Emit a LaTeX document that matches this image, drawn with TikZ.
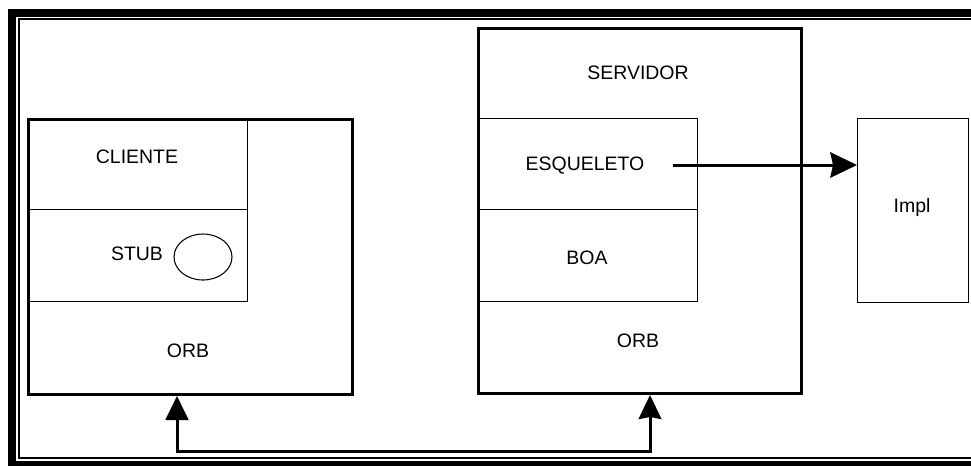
\documentclass[tikz,border=0pt]{standalone}
\usepackage{fontspec}
\setmainfont{Liberation Sans}
\usetikzlibrary{arrows.meta,shapes.geometric}
\begin{document}
\begin{tikzpicture}[x=0.75pt,y=-0.75pt,
  lbl/.style={font=\fontsize{14.6pt}{16pt}\selectfont, inner sep=0pt},
  outerbox/.style={draw, line width=2.25pt, anchor=north west, inner sep=0pt},
  innerbox/.style={draw, line width=0.8pt, anchor=north west, inner sep=0pt},
  conn/.style={line width=2.25pt},
  tipA/.style={-{Triangle[length=18pt,width=17pt]}},
]
\useasboundingbox (0,0) rectangle (971,465);
\begin{scope}
\clip (0,0) rectangle (971,465);
\draw[line width=6pt] (12,12.5) rectangle (990,465);
\draw[line width=1.5pt] (19,19) rectangle (985,458);
\end{scope}

% client
\node[outerbox, minimum width=324*0.75pt, minimum height=275*0.75pt] (cl) at (27,118) {};
\node[innerbox, minimum width=220*0.75pt, minimum height=91*0.75pt] (cli) at (27,118) {};
\node[innerbox, minimum width=220*0.75pt, minimum height=92*0.75pt] (stub) at (27,209) {};
\node[draw, line width=0.8pt, ellipse, minimum width=58*0.75pt, minimum height=46*0.75pt, inner sep=0pt] (ell) at (203,257) {};
\node[lbl] (tcli) at (137,157) {CLIENTE};
\node[lbl] (tstub) at (137,254) {STUB};
\node[lbl] (torb1) at (188,351) {ORB};

% server
\node[outerbox, minimum width=323*0.75pt, minimum height=365*0.75pt] (sv) at (477,27) {};
\node[innerbox, minimum width=220*0.75pt, minimum height=91*0.75pt] (esq) at (477,118) {};
\node[innerbox, minimum width=220*0.75pt, minimum height=92*0.75pt] (boa) at (477,209) {};
\node[lbl] (tsrv) at (638,73) {SERVIDOR};
\node[lbl] (tesq) at (585,166) {ESQUELETO};
\node[lbl] (tboa) at (587,258) {BOA};
\node[lbl] (torb2) at (638,341) {ORB};

% impl
\node[draw, line width=0.8pt, anchor=north west, inner sep=0pt, minimum width=111*0.75pt, minimum height=184*0.75pt] (impl) at (857,118) {};
\node[lbl] (timpl) at (912,207) {Impl};

% connectors
\coordinate (s) at (673,165);
\draw[conn, -{Stealth[length=20pt,width=19pt,inset=2pt]}] (s) -- (impl.west |- s);

\coordinate (c1) at (177,451);
\coordinate (c2) at (650,451);
\draw[conn, {Triangle[length=18pt,width=17pt]}-{Stealth[length=18pt,width=17pt,inset=1.5pt]}] (cl.south -| c1) -- (c1) -- (c2) -- (sv.south -| c2);
\end{tikzpicture}
\end{document}
